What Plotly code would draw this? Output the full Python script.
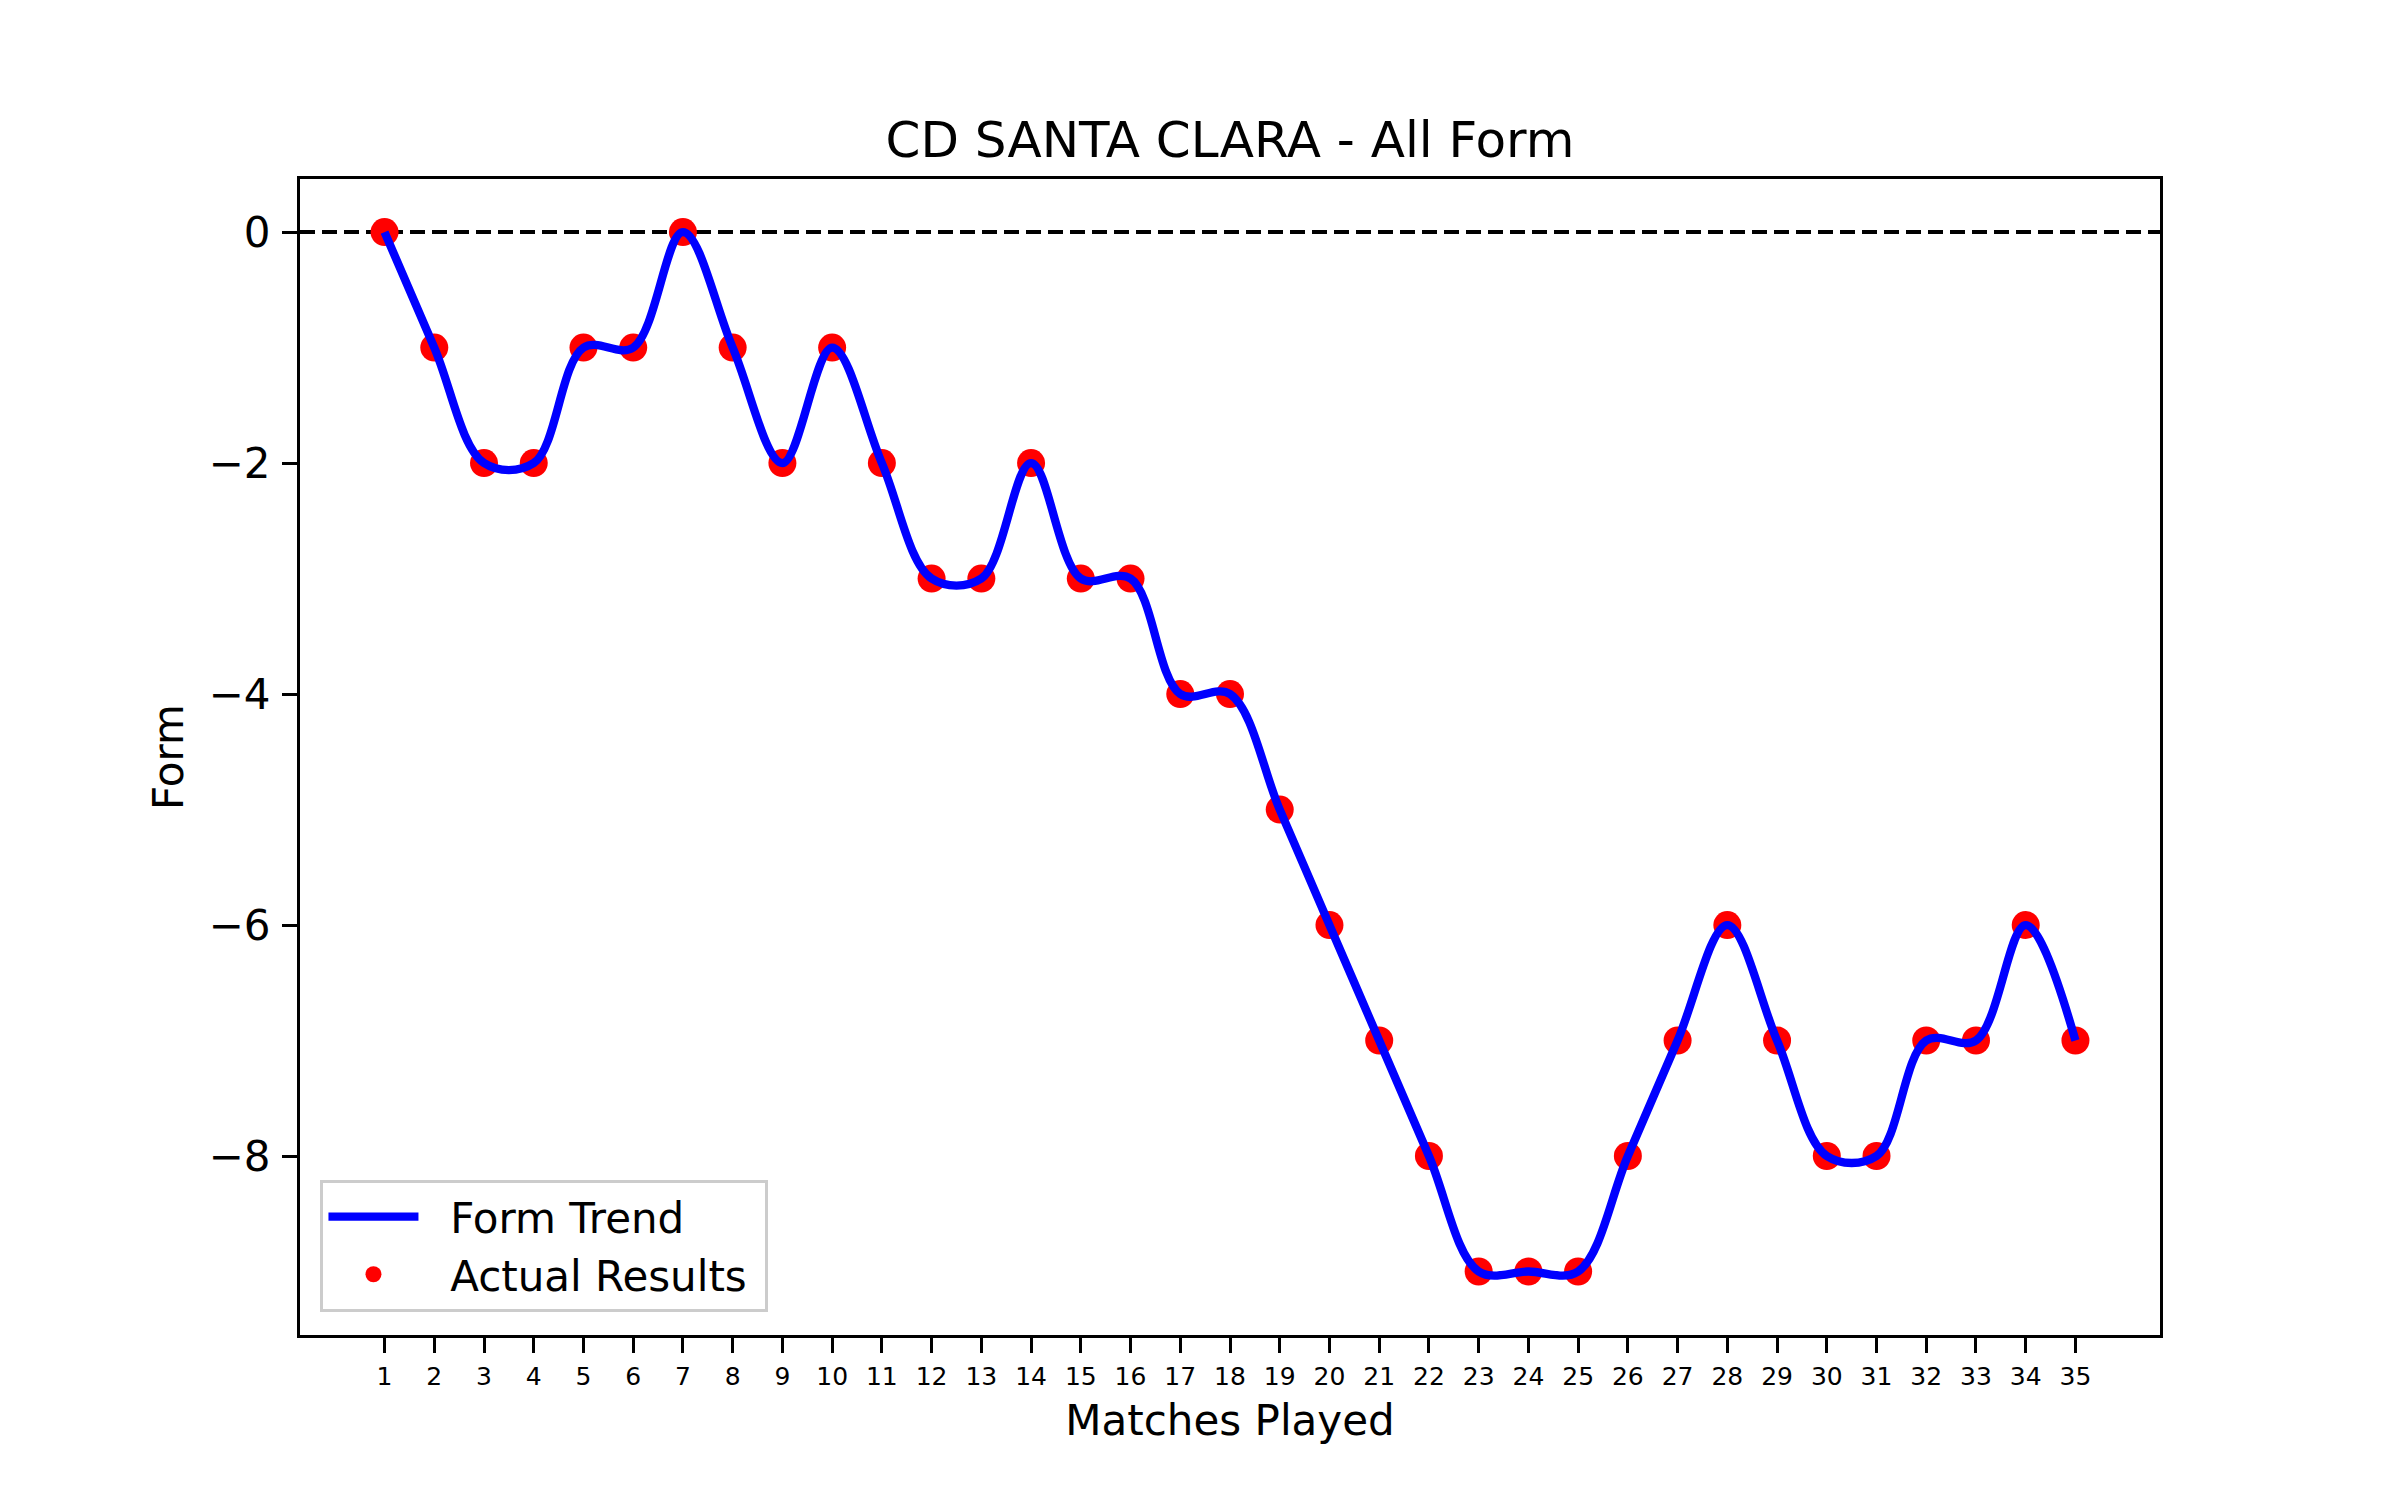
import plotly.graph_objects as go

matches = list(range(1, 36))
form = [0, -1, -2, -2, -1, -1, 0, -1, -2, -1, -2, -3, -3, -2, -3, -3, -4, -4, -5, -6,
        -7, -8, -9, -9, -9, -8, -7, -6, -7, -8, -8, -7, -7, -6, -7]
y_ticks = [0, -2, -4, -6, -8]

FONT = "DejaVu Sans"

fig = go.Figure()
fig.add_trace(go.Scatter(
    x=matches, y=form, mode="markers", name="  Actual Results ",
    marker=dict(color="red", size=28, line=dict(width=0)),
    legendrank=2,
))
fig.add_trace(go.Scatter(
    x=matches, y=form, mode="lines", name="  Form Trend",
    line=dict(color="blue", width=8.3, shape="spline", smoothing=1.0),
    legendrank=1,
))

fig.add_shape(type="line", xref="x domain", yref="y", x0=0, x1=1, y0=0, y1=0,
              line=dict(color="black", width=4, dash="15px,7px"), layer="below")

fig.update_layout(
    width=2400, height=1500,
    margin=dict(l=300, r=240, t=179, b=165, pad=0),
    paper_bgcolor="white", plot_bgcolor="white",
    font=dict(family=FONT, color="black", size=42),
    title=dict(text="CD SANTA CLARA - All Form", x=0.5, xref="paper", xanchor="center",
               y=1, yref="paper", yanchor="bottom", pad=dict(b=22),
               font=dict(size=50, family=FONT, color="black")),
    showlegend=True,
    legend=dict(x=0.011, y=0.02, xanchor="left", yanchor="bottom",
                bgcolor="rgba(255,255,255,0.8)", bordercolor="#cccccc", borderwidth=3,
                font=dict(size=42, family=FONT, color="black"),
                traceorder="normal", itemwidth=90, tracegroupgap=0),
    xaxis=dict(
        range=[-0.7, 36.7], tickmode="array", tickvals=matches,
        ticktext=[str(m) for m in matches],
        tickfont=dict(size=25, family=FONT, color="black"),
        ticks="outside", ticklen=15, tickwidth=3.3, tickcolor="black",
        showline=True, linecolor="black", linewidth=3.3, mirror=True,
        showgrid=False, zeroline=False, ticklabelstandoff=2,
        title=dict(text="Matches Played", font=dict(size=42, family=FONT, color="black"),
                   standoff=16),
    ),
    yaxis=dict(
        range=[-9.55, 0.46], tickmode="array", tickvals=y_ticks,
        tickfont=dict(size=42, family=FONT, color="black"),
        ticks="outside", ticklen=15, tickwidth=3.3, tickcolor="black",
        showline=True, linecolor="black", linewidth=3.3, mirror=True,
        showgrid=False, zeroline=False, ticklabelstandoff=3,
        title=dict(text="Form", font=dict(size=42, family=FONT, color="black"),
                   standoff=12),
    ),
)

fig.write_html("out.html")
